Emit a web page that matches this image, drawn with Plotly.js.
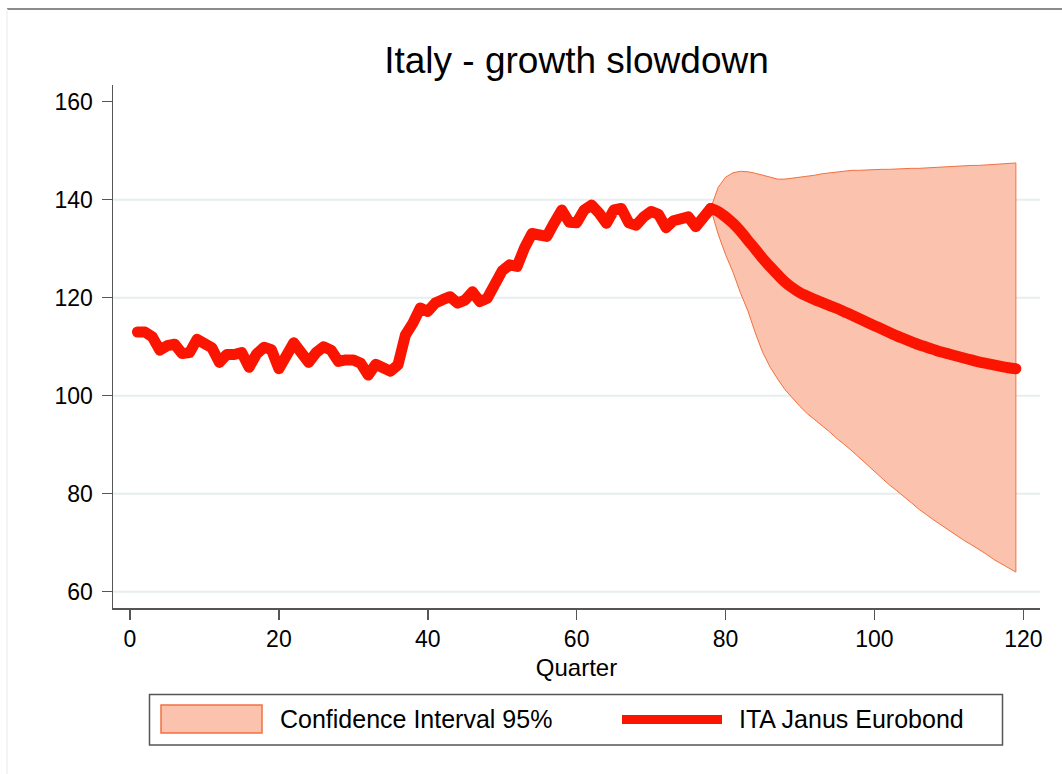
<!DOCTYPE html>
<html>
<head>
<meta charset="utf-8">
<script src="https://cdn.plot.ly/plotly-3.0.1.min.js"></script>
<style>
  html, body { margin: 0; padding: 0; background: #ffffff; }
  #chart { width: 1062px; height: 774px; }
</style>
</head>
<body>
<div id="chart"></div>
<script>
// Observed index, quarters 1..78
const histValues = [
  113.0, 113.0, 112.0, 109.3, 110.2, 110.5, 108.6, 108.8, 111.5, 110.8,
  109.8, 106.8, 108.4, 108.4, 108.8, 105.8, 108.5, 109.9, 109.4, 105.5,
  108.5, 110.8, 108.8, 106.8, 108.8, 110.0, 109.3, 107.0, 107.3, 107.3,
  106.6, 104.2, 106.4, 105.8, 105.0, 106.3, 112.4, 114.8, 117.9, 117.2,
  118.9, 119.6, 120.2, 118.9, 119.5, 121.2, 119.2, 119.9, 122.9, 125.5,
  126.7, 126.4, 130.2, 133.1, 132.8, 132.5, 135.3, 137.9, 135.4, 135.3,
  137.9, 138.9, 137.3, 135.2, 137.9, 138.2, 135.3, 134.8, 136.5, 137.6,
  137.0, 134.3, 135.7, 136.4, 136.5, 134.5, 136.5, 138.2
];

// Projection, quarters 78..119 (first value joins the observed series)
const forecastCentral = [
  138.2, 137.6, 136.5, 135.2, 133.6, 131.7, 129.9, 128.0, 126.3, 124.7,
  123.2, 122.0, 121.0, 120.3, 119.6, 119.0, 118.4, 117.8, 117.1, 116.4,
  115.7, 115.0, 114.3, 113.6, 112.9, 112.2, 111.6, 111.0, 110.4, 109.9,
  109.4, 108.9, 108.5, 108.1, 107.7, 107.3, 106.9, 106.6, 106.3, 106.0,
  105.7, 105.5
];
const forecastUpper = [
  138.2, 142.5, 144.6, 145.5, 145.8, 145.7, 145.4, 145.0, 144.5, 144.2,
  144.2, 144.4, 144.5, 144.7, 145.0, 145.3, 145.5, 145.7, 145.8, 146.0,
  146.0, 146.1, 146.1, 146.2, 146.2, 146.3, 146.3, 146.4, 146.4, 146.5,
  146.5, 146.6, 146.7, 146.8, 146.9, 147.0, 147.0, 147.1, 147.2, 147.3,
  147.4, 147.5
];
const forecastLower = [
  138.2, 133.0, 128.8, 125.2, 121.0, 117.3, 112.8, 108.8, 105.8, 103.4,
  101.2, 99.4, 97.8, 96.3, 95.0, 93.8, 92.6, 91.2, 90.0, 88.7,
  87.3, 86.0, 84.7, 83.2, 81.8, 80.6, 79.4, 78.1, 76.8, 75.7,
  74.6, 73.5, 72.5, 71.5, 70.5, 69.6, 68.7, 67.7, 66.6, 65.7,
  64.9, 64.0
];

const firstQuarter = 1;
const forecastFirstQuarter = 78;

const xTickVals = [0, 20, 40, 60, 80, 100, 120];
const yTickVals = [60, 80, 100, 120, 140, 160];
const gridVals = [60, 80, 100, 120, 140];

const titleText = 'Italy - growth slowdown';
const xTitleText = 'Quarter';
const bandName = 'Confidence Interval 95%';
const lineName = 'ITA Janus Eurobond';

// ---- styling ----
const FONT = 'Liberation Sans, Arial, Helvetica, sans-serif';
const RED = '#fb1500';
const BAND_FILL = '#fbc2ad';
const BAND_EDGE = '#f3703f';
const AXIS = '#555555';
const GRID = '#e6eeef';
const LINE_W = 11;

const W = 1062, H = 774;
const M = { l: 113, r: 22, t: 85, b: 166 };
const PW = W - M.l - M.r, PH = H - M.t - M.b;
const px = X => (X - M.l) / PW;          // page x -> paper x
const py = Y => (H - M.b - Y) / PH;      // page y -> paper y

// ---- series ----
const histQuarters = histValues.map((_, i) => firstQuarter + i);
const fcQuarters = forecastCentral.map((_, i) => forecastFirstQuarter + i);

const bandTrace = {
  type: 'scatter', mode: 'lines', name: bandName, showlegend: false,
  x: fcQuarters.concat(fcQuarters.slice().reverse()),
  y: forecastUpper.concat(forecastLower.slice().reverse()),
  fill: 'toself', fillcolor: BAND_FILL,
  line: { color: BAND_EDGE, width: 1 },
  hoverinfo: 'skip'
};

// observed part of the series
const histTrace = {
  type: 'scatter', mode: 'lines', name: lineName, showlegend: false,
  x: histQuarters, y: histValues,
  line: { color: RED, width: LINE_W, shape: 'linear' }
};

// projected part, drawn as a smooth curve
const fcTrace = {
  type: 'scatter', mode: 'lines', name: lineName, showlegend: false,
  x: fcQuarters, y: forecastCentral,
  line: { color: RED, width: LINE_W, shape: 'spline', smoothing: 1 }
};

// ---- gridlines (no line at the top tick) ----
const shapes = gridVals.map(v => ({
  type: 'line', layer: 'below', xref: 'paper', yref: 'y',
  x0: 0, x1: 1, y0: v, y1: v,
  line: { color: GRID, width: 2 }
}));

// outer frame edges of the graph region
shapes.push({ type: 'line', xref: 'paper', yref: 'paper',
  x0: px(7), x1: px(W), y0: py(9), y1: py(9),
  line: { color: '#8c8c8c', width: 2 } });
shapes.push({ type: 'line', xref: 'paper', yref: 'paper',
  x0: px(7), x1: px(7), y0: py(9), y1: py(H),
  line: { color: '#eef2f2', width: 1.5 } });

// ---- legend box ----
shapes.push({ type: 'rect', xref: 'paper', yref: 'paper',
  x0: px(149.5), x1: px(1002.5), y0: py(694.5), y1: py(745),
  line: { color: '#555555', width: 1.5 }, fillcolor: '#ffffff' });
shapes.push({ type: 'rect', xref: 'paper', yref: 'paper',
  x0: px(161), x1: px(262), y0: py(705), y1: py(733),
  line: { color: BAND_EDGE, width: 1.5 }, fillcolor: BAND_FILL });
shapes.push({ type: 'line', xref: 'paper', yref: 'paper',
  x0: px(622), x1: px(722), y0: py(719.5), y1: py(719.5),
  line: { color: RED, width: 9 } });

const annotations = [
  { xref: 'paper', yref: 'paper', x: px(278), y: py(719.5),
    xanchor: 'left', yanchor: 'middle', showarrow: false, text: bandName,
    font: { family: FONT, size: 25, color: '#000000' } },
  { xref: 'paper', yref: 'paper', x: px(737), y: py(719.5),
    xanchor: 'left', yanchor: 'middle', showarrow: false, text: lineName,
    font: { family: FONT, size: 25, color: '#000000' } }
];

const layout = {
  width: W, height: H,
  margin: M,
  paper_bgcolor: '#ffffff', plot_bgcolor: '#ffffff',
  font: { family: FONT, color: '#000000' },
  showlegend: false,
  title: {
    text: titleText,
    font: { family: FONT, size: 37, color: '#000000' },
    x: 0.5, xref: 'paper', xanchor: 'center',
    y: 1 - 60 / H, yref: 'container', yanchor: 'middle'
  },
  xaxis: {
    range: [-2.284, 122.24],
    tickmode: 'array', tickvals: xTickVals,
    ticks: 'outside', ticklen: 10, tickwidth: 1.5, tickcolor: AXIS,
    showline: true, linecolor: AXIS, linewidth: 1.5,
    showgrid: false, zeroline: false,
    tickfont: { family: FONT, size: 23, color: '#000000' },
    title: { text: xTitleText, font: { family: FONT, size: 24, color: '#000000' }, standoff: 8 }
  },
  yaxis: {
    range: [56.67, 163.41],
    tickmode: 'array', tickvals: yTickVals,
    ticks: 'outside', ticklen: 10, tickwidth: 1.5, tickcolor: AXIS,
    showline: true, linecolor: AXIS, linewidth: 1.5,
    showgrid: false, zeroline: false,
    tickfont: { family: FONT, size: 23, color: '#000000' },
    ticklabelstandoff: 4
  },
  shapes: shapes,
  annotations: annotations
};

Plotly.newPlot('chart', [bandTrace, histTrace, fcTrace], layout, { staticPlot: true, displayModeBar: false })
  .then(gd => {
    // round ends and joins on the series lines
    gd.querySelectorAll('.scatterlayer .trace').forEach((t, i) => {
      if (i === 0) return;
      t.querySelectorAll('path.js-line').forEach(p => {
        p.style.strokeLinecap = 'round';
        p.style.strokeLinejoin = 'round';
      });
    });
  });
</script>
</body>
</html>
